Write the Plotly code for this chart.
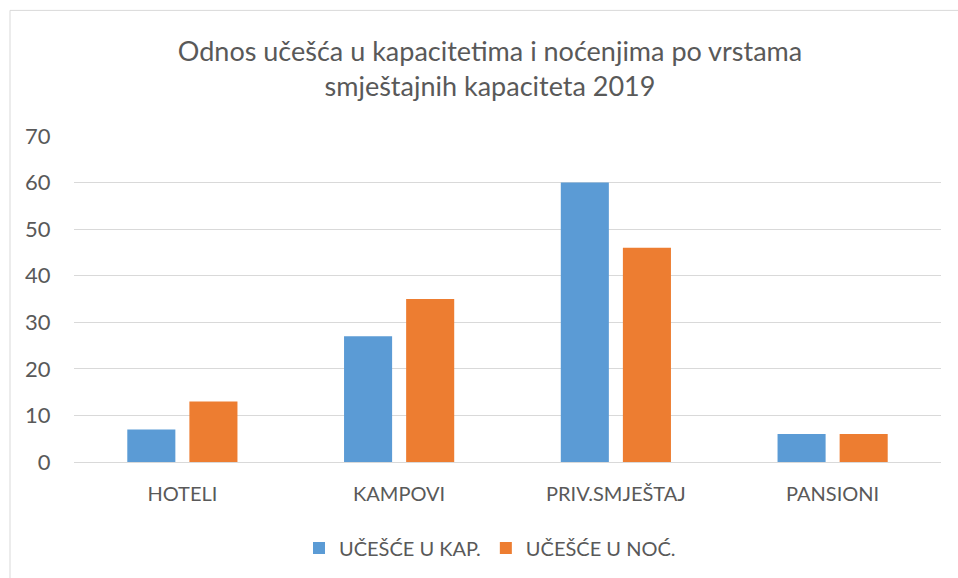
import plotly.graph_objects as go

categories = ["HOTELI", "KAMPOVI", "PRIV.SMJEŠTAJ", "PANSIONI"]
ucesce_kap = [7, 27, 60, 6]
ucesce_noc = [13, 35, 46, 6]
series_names = ["UČEŠĆE U KAP.", "UČEŠĆE U NOĆ."]
y_ticks = [0, 10, 20, 30, 40, 50, 60, 70]

W, H = 958, 578
PL, PR, PT, PB = 74, 941, 136, 463  # plot area in page pixels
ML, MR, MT, MB = PL, W - PR, PT, H - PB

FONT = "Lato"
TXT = "#595959"

fig = go.Figure()
fig.add_trace(go.Bar(x=categories, y=ucesce_kap, name=series_names[0],
                     marker=dict(color="#5B9BD5", line=dict(width=0))))
fig.add_trace(go.Bar(x=categories, y=ucesce_noc, name=series_names[1],
                     marker=dict(color="#ED7D31", line=dict(width=0))))

def px_x(p):  # page pixel -> paper
    return (p - PL) / (PR - PL)

def px_y(p):
    return (PB - p) / (PB - PT)

fig.update_layout(
    width=W, height=H,
    margin=dict(l=ML, r=MR, t=MT, b=MB),
    paper_bgcolor="white", plot_bgcolor="white",
    font=dict(family=FONT, color=TXT, size=18),
    title=dict(text="Odnos učešća u kapacitetima i noćenjima po vrstama<br>smještajnih kapaciteta 2019",
               x=490 / W, xanchor="center", y=1 - 61 / H, yanchor="middle",
               font=dict(family=FONT, size=27, color=TXT)),
    barmode="group", bargap=0.427, bargroupgap=0.226,
    showlegend=True,
    legend=dict(orientation="h", x=px_x(490), xanchor="center",
                y=px_y(548), yanchor="middle",
                font=dict(family=FONT, size=20, color=TXT),
                itemwidth=30, tracegroupgap=0),
    xaxis=dict(showgrid=False, showline=True, linecolor="#D9D9D9", linewidth=1,
               ticks="outside", ticklen=14, tickcolor="rgba(0,0,0,0)",
               tickfont=dict(family=FONT, size=20, color=TXT)),
    yaxis=dict(range=[0, 70], tickvals=y_ticks, showgrid=True, gridcolor="#D9D9D9",
               gridwidth=1, zeroline=False, showline=False,
               ticks="outside", ticklen=18, tickcolor="rgba(0,0,0,0)",
               tickfont=dict(family=FONT, size=22, color=TXT)),
    shapes=[dict(type="rect", xref="paper", yref="paper",
                 x0=px_x(10), x1=px_x(990), y0=px_y(600), y1=px_y(10),
                 line=dict(color="#D9D9D9", width=1), layer="below")],
)

fig.write_html(
    "out.html",
    config={"displayModeBar": False},
    post_script="document.body.style.margin='0';document.body.style.overflow='hidden';",
)
